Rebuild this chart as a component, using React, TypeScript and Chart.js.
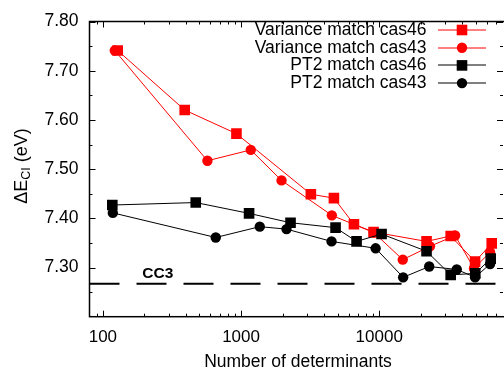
import React, { useEffect, useRef } from "react";
import { Chart, registerables } from "chart.js";

Chart.register(...registerables);

// ---- data ----
const seriesLabels = [
  "Variance match cas46",
  "Variance match cas43",
  "PT2 match cas46",
  "PT2 match cas43",
];

const varCas46X = [128, 391, 926, 3200, 4700, 6560, 9100, 22000, 32900, 49400, 65200];
const varCas46Y = [7.741, 7.62, 7.572, 7.449, 7.441, 7.388, 7.372, 7.353, 7.364, 7.312, 7.349];

const varCas43X = [122, 571, 1175, 1963, 4540, 9150, 14800, 23300, 35400, 48500, 63400];
const varCas43Y = [7.741, 7.517, 7.539, 7.477, 7.406, 7.371, 7.316, 7.343, 7.365, 7.298, 7.331];

const pt2Cas46X = [117, 470, 1143, 2281, 4830, 6855, 10400, 22000, 32900, 49600, 64100];
const pt2Cas46Y = [7.427, 7.432, 7.41, 7.391, 7.381, 7.353, 7.368, 7.333, 7.285, 7.288, 7.318];

const pt2Cas43X = [118, 656, 1366, 2133, 4518, 9420, 14900, 23000, 36400, 49400, 63400];
const pt2Cas43Y = [7.411, 7.361, 7.383, 7.378, 7.353, 7.339, 7.28, 7.302, 7.296, 7.28, 7.307];

const cc3Value = 7.267;
const cc3Label = "CC3";
const cc3LabelX = 250;

const xMin = 80;
const xMax = 80000;
const yMin = 7.2;
const yMax = 7.8;
const xTickValues = [100, 1000, 10000];
const yTickValues = [7.3, 7.4, 7.5, 7.6, 7.7, 7.8];

const xTitle = "Number of determinants";

const FONT = "'Liberation Sans', Arial, Helvetica, sans-serif";
const RED = "#ff0000";
const BLACK = "#000000";

const toPts = (xs: number[], ys: number[]) => xs.map((x, i) => ({ x, y: ys[i] }));

const seriesStyles = [
  { color: RED, style: "rect" },
  { color: RED, style: "circle" },
  { color: BLACK, style: "rect" },
  { color: BLACK, style: "circle" },
];

function drawMarker(ctx: CanvasRenderingContext2D, style: string, color: string, x: number, y: number) {
  ctx.fillStyle = color;
  ctx.beginPath();
  if (style === "rect") {
    const s = 5.3;
    ctx.rect(x - s, y - s, 2 * s, 2 * s);
  } else {
    ctx.arc(x, y, 5.2, 0, Math.PI * 2);
  }
  ctx.fill();
}

const AREA_RIGHT = 504;

const decorPlugin = {
  id: "decor",
  afterLayout(chart: any) {
    const xs = chart.scales.x;
    xs.right = AREA_RIGHT;
    xs.width = xs.right - xs.left;
    xs.configure();
    chart.chartArea.right = AREA_RIGHT;
    chart.chartArea.width = AREA_RIGHT - chart.chartArea.left;
  },
  afterDraw(chart: any) {
    const { ctx, chartArea: a, scales } = chart;
    const xs = scales.x;
    const ys = scales.y;
    ctx.save();
    ctx.strokeStyle = "#000";

    // ticks (inward, mirrored)
    ctx.lineWidth = 1;
    const majL = 6;
    const minL = 3;
    const xMinor: number[] = [];
    for (let d = 10; d <= 10000; d *= 10) {
      for (let k = 2; k <= 9; k++) {
        const v = k * d;
        if (v > xMin && v <= xMax) xMinor.push(v);
      }
    }
    const drawXTick = (v: number, len: number) => {
      const px = Math.round(xs.getPixelForValue(v)) + 0.5;
      ctx.beginPath();
      ctx.moveTo(px, a.bottom);
      ctx.lineTo(px, a.bottom - len);
      ctx.moveTo(px, a.top);
      ctx.lineTo(px, a.top + len);
      ctx.stroke();
    };
    xTickValues.forEach((v) => drawXTick(v, majL));
    xMinor.forEach((v) => drawXTick(v, minL));
    const drawYTick = (v: number, len: number) => {
      const py = Math.round(ys.getPixelForValue(v)) + 0.5;
      ctx.beginPath();
      ctx.moveTo(a.left, py);
      ctx.lineTo(a.left + len, py);
      ctx.moveTo(a.right - 1, py);
      ctx.lineTo(a.right - 1 - len, py);
      ctx.stroke();
    };
    yTickValues.forEach((v) => drawYTick(v, majL));
    for (let v = yMin + 0.05; v < yMax; v += 0.1) drawYTick(v, minL);

    // border
    ctx.lineWidth = 1.5;
    ctx.strokeRect(a.left, a.top, a.right - a.left + 2, a.bottom - a.top);

    // CC3 label
    ctx.fillStyle = "#000";
    ctx.font = `bold 15.5px ${FONT}`;
    ctx.textAlign = "center";
    ctx.textBaseline = "alphabetic";
    ctx.fillText(cc3Label, xs.getPixelForValue(cc3LabelX), ys.getPixelForValue(cc3Value) - 6);

    // legend
    ctx.font = `17.5px ${FONT}`;
    ctx.textAlign = "right";
    ctx.textBaseline = "middle";
    seriesLabels.forEach((lab, i) => {
      const y = 30 + i * 17.7;
      const st = seriesStyles[i];
      ctx.fillStyle = "#000";
      ctx.fillText(lab, 426.5, y);
      ctx.strokeStyle = st.color;
      ctx.lineWidth = 1;
      ctx.beginPath();
      ctx.moveTo(438, Math.round(y));
      ctx.lineTo(486, Math.round(y));
      ctx.stroke();
      drawMarker(ctx, st.style, st.color, 462, y);
    });

    // x title
    ctx.fillStyle = "#000";
    ctx.textAlign = "center";
    ctx.textBaseline = "alphabetic";
    ctx.font = `17.5px ${FONT}`;
    ctx.fillText(xTitle, 298, 367);

    // y title: ΔE_CI (eV)
    const mainF = `18px ${FONT}`;
    const subF = `12.5px ${FONT}`;
    const p1 = "\u0394E";
    const p2 = "CI";
    const p3 = " (eV)";
    ctx.font = mainF;
    const w1 = ctx.measureText(p1).width;
    const w3 = ctx.measureText(p3).width;
    ctx.font = subF;
    const w2 = ctx.measureText(p2).width;
    const tot = w1 + w2 + w3;
    ctx.translate(27, 166);
    ctx.rotate(-Math.PI / 2);
    ctx.textAlign = "left";
    let cx = -tot / 2;
    ctx.font = mainF;
    ctx.fillText(p1, cx, 0);
    cx += w1;
    ctx.font = subF;
    ctx.fillText(p2, cx, 2.5);
    cx += w2;
    ctx.font = mainF;
    ctx.fillText(p3, cx, 0);

    ctx.restore();
  },
};

export default function App() {
  const ref = useRef<HTMLCanvasElement | null>(null);

  useEffect(() => {
    if (!ref.current) return;
    const mk = (i: number, xs: number[], ys: number[]) => ({
      label: seriesLabels[i],
      data: toPts(xs, ys),
      borderColor: seriesStyles[i].color,
      backgroundColor: seriesStyles[i].color,
      borderWidth: 1,
      pointStyle: seriesStyles[i].style,
      pointRadius: seriesStyles[i].style === "rect" ? 7.5 : 5.2,
      pointBorderWidth: 0,
      pointBackgroundColor: seriesStyles[i].color,
      tension: 0,
    });
    const chart = new Chart(ref.current, {
      type: "line",
      data: {
        datasets: [
          mk(3, pt2Cas43X, pt2Cas43Y),
          mk(2, pt2Cas46X, pt2Cas46Y),
          mk(1, varCas43X, varCas43Y),
          mk(0, varCas46X, varCas46Y),
          {
            label: "CC3",
            data: [
              { x: xMin, y: cc3Value },
              { x: xMax, y: cc3Value },
            ],
            borderColor: "#000",
            borderWidth: 2,
            borderDash: [30, 17],
            pointRadius: 0,
          },
        ],
      },
      options: {
        animation: false,
        responsive: false,
        devicePixelRatio: 1,
        layout: { padding: { top: 16, right: 0, left: 0, bottom: 0 } },
        plugins: {
          legend: { display: false },
          tooltip: { enabled: false },
        },
        scales: {
          x: {
            type: "logarithmic",
            min: xMin,
            max: xMax,
            grid: { display: false, drawTicks: false },
            border: { display: false },
            afterBuildTicks: (s: any) => {
              s.ticks = xTickValues.map((v) => ({ value: v }));
            },
            afterFit: (s: any) => {
              s.height = 53.3;
            },
            ticks: {
              autoSkip: false,
              maxRotation: 0,
              padding: 10,
              color: "#000",
              font: { family: FONT, size: 17 },
              callback: (v: any) => String(v),
            },
          },
          y: {
            type: "linear",
            min: yMin,
            max: yMax,
            grid: { display: false, drawTicks: false },
            border: { display: false },
            afterBuildTicks: (s: any) => {
              s.ticks = yTickValues.map((v) => ({ value: v }));
            },
            afterFit: (s: any) => {
              s.width = 89.5;
            },
            ticks: {
              padding: 11,
              color: "#000",
              font: { family: FONT, size: 17.5 },
              callback: (v: any) => Number(v).toFixed(2),
            },
          },
        },
      },
      plugins: [decorPlugin],
    } as any);
    return () => chart.destroy();
  }, []);

  return (
    <div style={{ position: "absolute", left: 0, top: 0, width: 504, height: 370, overflow: "hidden", background: "#fff" }}>
      <canvas ref={ref} width={504} height={370} style={{ display: "block", width: 504, height: 370 }} />
    </div>
  );
}
